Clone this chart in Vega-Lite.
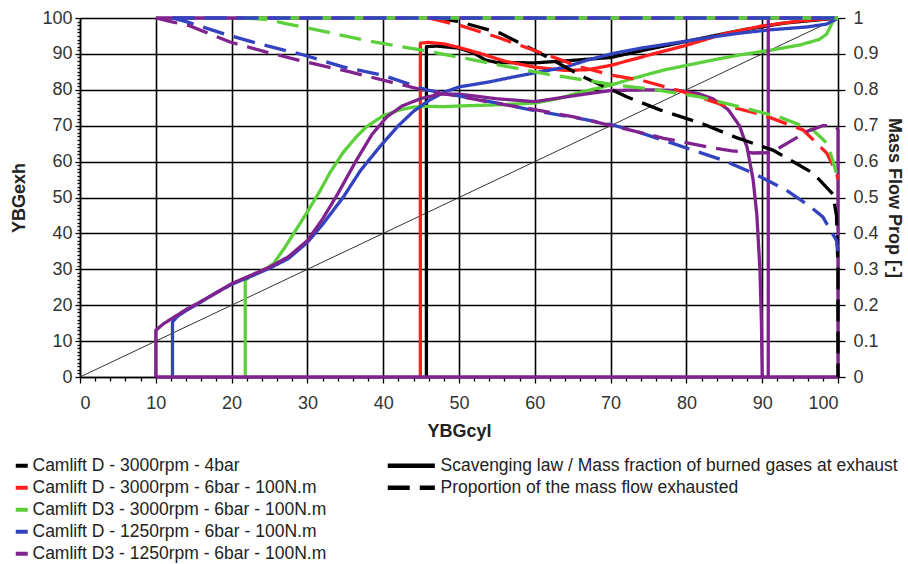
{
"$schema": "https://vega.github.io/schema/vega-lite/v6.json",
"width": 758, "height": 359,
"autosize": {"type": "none"},
"padding": {"left": 80, "top": 18, "right": 70, "bottom": 187},
"background": "white",
"config": {
  "view": {"stroke": null},
  "axis": {"labelFont": "Liberation Sans", "labelFontSize": 18, "labelColor": "#333", "titleFont": "Liberation Sans", "titleFontSize": 18, "titleFontWeight": "bold", "titleColor": "#222", "domainColor": "#000", "domainWidth": 1.5, "tickColor": "#000", "tickWidth": 1.3, "gridColor": "#000", "gridWidth": 1.6, "gridOpacity": 1},
  "legend": {"labelFont": "Liberation Sans", "labelFontSize": 17.5, "labelColor": "#222", "labelLimit": 700}
},
"datasets": {
  "segs": [
    {"g": "k1", "s": "Camlift D - 3000rpm - 4bar", "k": "Scavenging law / Mass fraction of burned gases at exhaust"},
    {"g": "r1", "s": "Camlift D - 3000rpm - 6bar - 100N.m", "k": "Scavenging law / Mass fraction of burned gases at exhaust"},
    {"g": "g1", "s": "Camlift D3 - 3000rpm - 6bar - 100N.m", "k": "Scavenging law / Mass fraction of burned gases at exhaust"},
    {"g": "b1", "s": "Camlift D - 1250rpm - 6bar - 100N.m", "k": "Scavenging law / Mass fraction of burned gases at exhaust"},
    {"g": "p1", "s": "Camlift D3 - 1250rpm - 6bar - 100N.m", "k": "Scavenging law / Mass fraction of burned gases at exhaust"},
    {"g": "p2", "s": "Camlift D3 - 1250rpm - 6bar - 100N.m", "k": "Scavenging law / Mass fraction of burned gases at exhaust"},
    {"g": "p3", "s": "Camlift D3 - 1250rpm - 6bar - 100N.m", "k": "Scavenging law / Mass fraction of burned gases at exhaust"},
    {"g": "p4", "s": "Camlift D3 - 1250rpm - 6bar - 100N.m", "k": "Scavenging law / Mass fraction of burned gases at exhaust"},
    {"g": "p5", "s": "Camlift D3 - 1250rpm - 6bar - 100N.m", "k": "Scavenging law / Mass fraction of burned gases at exhaust"},
    {"g": "kd", "s": "Camlift D - 3000rpm - 4bar", "k": "Proportion of the mass flow exhausted"},
    {"g": "rd", "s": "Camlift D - 3000rpm - 6bar - 100N.m", "k": "Proportion of the mass flow exhausted"},
    {"g": "gd", "s": "Camlift D3 - 3000rpm - 6bar - 100N.m", "k": "Proportion of the mass flow exhausted"},
    {"g": "gt", "s": "Camlift D3 - 3000rpm - 6bar - 100N.m", "k": "Proportion of the mass flow exhausted"},
    {"g": "bd", "s": "Camlift D - 1250rpm - 6bar - 100N.m", "k": "Proportion of the mass flow exhausted"},
    {"g": "bt", "s": "Camlift D - 1250rpm - 6bar - 100N.m", "k": "Proportion of the mass flow exhausted"},
    {"g": "pd", "s": "Camlift D3 - 1250rpm - 6bar - 100N.m", "k": "Proportion of the mass flow exhausted"}
  ],
  "solid": [
    {"g":"k1","x":45.7,"y":0},{"g":"k1","x":45.7,"y":92},{"g":"k1","x":47,"y":92.2},{"g":"k1","x":50,"y":91.6},{"g":"k1","x":52,"y":90.2},{"g":"k1","x":53.5,"y":88.3},{"g":"k1","x":55,"y":87.6},{"g":"k1","x":60,"y":87.5},{"g":"k1","x":65,"y":88.2},{"g":"k1","x":70,"y":89},{"g":"k1","x":75,"y":91.3},{"g":"k1","x":80,"y":93.5},{"g":"k1","x":87,"y":96.5},{"g":"k1","x":93,"y":98.6},{"g":"k1","x":100,"y":100},
    {"g":"r1","x":44.9,"y":0},{"g":"r1","x":44.9,"y":93},{"g":"r1","x":46,"y":93.2},{"g":"r1","x":48,"y":92.8},{"g":"r1","x":50,"y":91.8},{"g":"r1","x":53,"y":90},{"g":"r1","x":56,"y":88},{"g":"r1","x":60,"y":86.3},{"g":"r1","x":64,"y":85.4},{"g":"r1","x":67,"y":85.6},{"g":"r1","x":70,"y":86.8},{"g":"r1","x":73,"y":88.5},{"g":"r1","x":76,"y":90.2},{"g":"r1","x":80,"y":92.4},{"g":"r1","x":85,"y":95.6},{"g":"r1","x":90,"y":97.8},{"g":"r1","x":95,"y":99.2},{"g":"r1","x":100,"y":100},
    {"g":"g1","x":21.8,"y":0},{"g":"g1","x":21.8,"y":27},{"g":"g1","x":22.5,"y":28},{"g":"g1","x":24,"y":29.5},{"g":"g1","x":25.5,"y":31.5},{"g":"g1","x":27,"y":36},{"g":"g1","x":28.2,"y":40},{"g":"g1","x":30,"y":46},{"g":"g1","x":31.7,"y":52},{"g":"g1","x":33,"y":57},{"g":"g1","x":34.7,"y":62.5},{"g":"g1","x":36.5,"y":67},{"g":"g1","x":37.8,"y":69.7},{"g":"g1","x":40,"y":72.8},{"g":"g1","x":42.2,"y":74.4},{"g":"g1","x":44,"y":75.2},{"g":"g1","x":46,"y":75.4},{"g":"g1","x":48,"y":75.3},{"g":"g1","x":50,"y":75.5},{"g":"g1","x":55,"y":75.8},{"g":"g1","x":60,"y":76.3},{"g":"g1","x":63,"y":77.5},{"g":"g1","x":66,"y":79.3},{"g":"g1","x":70,"y":81.3},{"g":"g1","x":73,"y":83.2},{"g":"g1","x":77,"y":85.5},{"g":"g1","x":80,"y":86.8},{"g":"g1","x":83.5,"y":88.3},{"g":"g1","x":87,"y":89.7},{"g":"g1","x":91,"y":91},{"g":"g1","x":95,"y":92.5},{"g":"g1","x":97.5,"y":94},{"g":"g1","x":98.5,"y":95.5},{"g":"g1","x":99.3,"y":99},{"g":"g1","x":100,"y":100},
    {"g":"b1","x":12.2,"y":0},{"g":"b1","x":12.2,"y":15.3},{"g":"b1","x":12.8,"y":16.8},{"g":"b1","x":14,"y":18.5},{"g":"b1","x":15.5,"y":20.3},{"g":"b1","x":18,"y":23.5},{"g":"b1","x":20,"y":25.8},{"g":"b1","x":22.5,"y":28},{"g":"b1","x":25,"y":30.3},{"g":"b1","x":27.5,"y":33},{"g":"b1","x":30,"y":37.5},{"g":"b1","x":32,"y":42.5},{"g":"b1","x":34.7,"y":50},{"g":"b1","x":37,"y":57.5},{"g":"b1","x":39.5,"y":64},{"g":"b1","x":42,"y":70},{"g":"b1","x":44,"y":74},{"g":"b1","x":46,"y":77},{"g":"b1","x":48,"y":79.3},{"g":"b1","x":50,"y":80.8},{"g":"b1","x":54,"y":82.2},{"g":"b1","x":57,"y":83.5},{"g":"b1","x":60.7,"y":85},{"g":"b1","x":64,"y":86.3},{"g":"b1","x":67.3,"y":88.5},{"g":"b1","x":70.3,"y":90.1},{"g":"b1","x":74,"y":91.6},{"g":"b1","x":78.3,"y":93},{"g":"b1","x":83,"y":94.6},{"g":"b1","x":87.1,"y":95.8},{"g":"b1","x":91,"y":96.7},{"g":"b1","x":95.9,"y":97.5},{"g":"b1","x":98.5,"y":98.3},{"g":"b1","x":100,"y":100},
    {"g":"p1","x":10,"y":0},{"g":"p1","x":10,"y":13},{"g":"p1","x":11,"y":14.8},{"g":"p1","x":12.5,"y":16.8},{"g":"p1","x":14,"y":18.8},{"g":"p1","x":15.5,"y":20.5},{"g":"p1","x":18,"y":23.5},{"g":"p1","x":20,"y":26},{"g":"p1","x":22.5,"y":28.3},{"g":"p1","x":25,"y":30.6},{"g":"p1","x":27.5,"y":33.5},{"g":"p1","x":30,"y":38},{"g":"p1","x":32,"y":44},{"g":"p1","x":34,"y":51},{"g":"p1","x":36.5,"y":60.5},{"g":"p1","x":38.5,"y":67.5},{"g":"p1","x":40.5,"y":72.5},{"g":"p1","x":42.5,"y":75.5},{"g":"p1","x":45,"y":77.6},{"g":"p1","x":47.5,"y":78.8},{"g":"p1","x":50,"y":78.8},{"g":"p1","x":55,"y":77.5},{"g":"p1","x":60,"y":76.7},{"g":"p1","x":65,"y":78.3},{"g":"p1","x":70,"y":79.8},{"g":"p1","x":75,"y":80},{"g":"p1","x":79,"y":79.8},{"g":"p1","x":81.5,"y":79},{"g":"p1","x":83.5,"y":77.5},{"g":"p1","x":85.5,"y":74.5},{"g":"p1","x":87,"y":70},{"g":"p1","x":88,"y":64},{"g":"p1","x":88.8,"y":55},{"g":"p1","x":89.3,"y":45},{"g":"p1","x":89.7,"y":30},{"g":"p1","x":89.9,"y":15},{"g":"p1","x":90,"y":0},
    {"g":"p2","x":10,"y":0},{"g":"p2","x":100,"y":0},
    {"g":"p3","x":90.8,"y":0},{"g":"p3","x":90.8,"y":100},
    {"g":"p4","x":100,"y":0},{"g":"p4","x":100,"y":69},
    {"g":"p5","x":10,"y":100},{"g":"p5","x":100,"y":100}
  ],
  "dashed": [
    {"g":"kd","x":47,"y":1},{"g":"kd","x":50,"y":0.99},{"g":"kd","x":55.4,"y":0.958},{"g":"kd","x":60.7,"y":0.902},{"g":"kd","x":66.4,"y":0.836},{"g":"kd","x":72.2,"y":0.78},{"g":"kd","x":76.5,"y":0.744},{"g":"kd","x":81.8,"y":0.708},{"g":"kd","x":86.7,"y":0.666},{"g":"kd","x":91.4,"y":0.632},{"g":"kd","x":96.7,"y":0.568},{"g":"kd","x":99.3,"y":0.51},{"g":"kd","x":99.8,"y":0.45},{"g":"kd","x":100,"y":0.3},{"g":"kd","x":100,"y":0},
    {"g":"rd","x":46,"y":1},{"g":"rd","x":50,"y":0.98},{"g":"rd","x":55,"y":0.947},{"g":"rd","x":60.7,"y":0.904},{"g":"rd","x":66,"y":0.864},{"g":"rd","x":70.3,"y":0.84},{"g":"rd","x":74,"y":0.827},{"g":"rd","x":79.6,"y":0.794},{"g":"rd","x":84.8,"y":0.758},{"g":"rd","x":90.1,"y":0.73},{"g":"rd","x":95.4,"y":0.688},{"g":"rd","x":98.5,"y":0.624},{"g":"rd","x":99.8,"y":0.57},{"g":"rd","x":100,"y":0.55},
    {"g":"gd","x":21.8,"y":1},{"g":"gd","x":25,"y":0.995},{"g":"gd","x":27,"y":0.985},{"g":"gd","x":31.2,"y":0.967},{"g":"gd","x":37.8,"y":0.937},{"g":"gd","x":42.2,"y":0.921},{"g":"gd","x":45.3,"y":0.91},{"g":"gd","x":49.7,"y":0.892},{"g":"gd","x":54.1,"y":0.874},{"g":"gd","x":62,"y":0.842},{"g":"gd","x":70.8,"y":0.813},{"g":"gd","x":76,"y":0.8},{"g":"gd","x":81.8,"y":0.78},{"g":"gd","x":87.1,"y":0.752},{"g":"gd","x":92.3,"y":0.724},{"g":"gd","x":96.7,"y":0.688},{"g":"gd","x":98.6,"y":0.65},{"g":"gd","x":99.3,"y":0.604},{"g":"gd","x":100,"y":0.55},
    {"g":"gt","x":21.8,"y":1},{"g":"gt","x":100,"y":1},
    {"g":"bd","x":12.2,"y":1},{"g":"bd","x":14,"y":0.99},{"g":"bd","x":19.4,"y":0.953},{"g":"bd","x":24.2,"y":0.925},{"g":"bd","x":29.5,"y":0.897},{"g":"bd","x":34.7,"y":0.864},{"g":"bd","x":40,"y":0.84},{"g":"bd","x":45.7,"y":0.8},{"g":"bd","x":52,"y":0.775},{"g":"bd","x":56.3,"y":0.758},{"g":"bd","x":60.7,"y":0.739},{"g":"bd","x":66,"y":0.72},{"g":"bd","x":70.3,"y":0.702},{"g":"bd","x":74,"y":0.68},{"g":"bd","x":78.3,"y":0.65},{"g":"bd","x":84.8,"y":0.604},{"g":"bd","x":88.8,"y":0.568},{"g":"bd","x":93.2,"y":0.52},{"g":"bd","x":96,"y":0.48},{"g":"bd","x":98,"y":0.446},{"g":"bd","x":99.8,"y":0.38},{"g":"bd","x":100,"y":0.35},
    {"g":"bt","x":12.2,"y":1},{"g":"bt","x":100,"y":1},
    {"g":"pd","x":10,"y":1},{"g":"pd","x":12,"y":0.99},{"g":"pd","x":14.5,"y":0.978},{"g":"pd","x":19.8,"y":0.933},{"g":"pd","x":24.6,"y":0.905},{"g":"pd","x":29.9,"y":0.877},{"g":"pd","x":35.6,"y":0.85},{"g":"pd","x":40.9,"y":0.822},{"g":"pd","x":45.7,"y":0.797},{"g":"pd","x":50,"y":0.782},{"g":"pd","x":55,"y":0.762},{"g":"pd","x":60,"y":0.745},{"g":"pd","x":65,"y":0.725},{"g":"pd","x":72.2,"y":0.69},{"g":"pd","x":77,"y":0.665},{"g":"pd","x":82.7,"y":0.641},{"g":"pd","x":86,"y":0.63},{"g":"pd","x":88.8,"y":0.624},{"g":"pd","x":91,"y":0.625},{"g":"pd","x":92,"y":0.635},{"g":"pd","x":94,"y":0.66},{"g":"pd","x":96,"y":0.685},{"g":"pd","x":98,"y":0.7},{"g":"pd","x":99.5,"y":0.7},{"g":"pd","x":100,"y":0.69}
  ]
},
"layer": [
  {
    "data": {"values": [{"x": 0, "y": 0}, {"x": 100, "y": 100}]},
    "mark": {"type": "line", "color": "#333", "strokeWidth": 1},
    "encoding": {
      "x": {"field": "x", "type": "quantitative", "scale": {"domain": [0, 100], "nice": false},
        "axis": {"values": [0,10,20,30,40,50,60,70,80,90,100], "grid": true, "title": "YBGcyl", "tickSize": 6, "labelPadding": 11, "titlePadding": 10}},
      "y": {"field": "y", "type": "quantitative", "scale": {"domain": [0, 100], "nice": false},
        "axis": {"orient": "left", "values": [0,10,20,30,40,50,60,70,80,90,100], "grid": true, "title": "YBGexh", "tickSize": 5, "labelPadding": 3, "titlePadding": 13}}
    }
  },
  {
    "data": {"name": "solid"},
    "transform": [{"lookup": "g", "from": {"data": {"name": "segs"}, "key": "g", "fields": ["s", "k"]}}],
    "mark": {"type": "line", "strokeWidth": 3.3, "strokeJoin": "round"},
    "encoding": {
      "x": {"field": "x", "type": "quantitative", "scale": {"domain": [0, 100], "nice": false},
        "axis": {"orient": "bottom", "values": [2,4,6,8,12,14,16,18,22,24,26,28,32,34,36,38,42,44,46,48,52,54,56,58,62,64,66,68,72,74,76,78,82,84,86,88,92,94,96,98], "labels": false, "grid": false, "domain": false, "tickSize": 4, "title": null}},
      "y": {"field": "y", "type": "quantitative", "scale": {"domain": [0, 100], "nice": false},
        "axis": {"orient": "left", "values": [1,2,3,4,5,6,7,8,9,11,12,13,14,15,16,17,18,19,21,22,23,24,25,26,27,28,29,31,32,33,34,35,36,37,38,39,41,42,43,44,45,46,47,48,49,51,52,53,54,55,56,57,58,59,61,62,63,64,65,66,67,68,69,71,72,73,74,75,76,77,78,79,81,82,83,84,85,86,87,88,89,91,92,93,94,95,96,97,98,99], "labels": false, "grid": false, "domain": false, "tickSize": 3, "title": null}},
      "color": {"field": "s", "type": "nominal",
        "scale": {"domain": ["Camlift D - 3000rpm - 4bar", "Camlift D - 3000rpm - 6bar - 100N.m", "Camlift D3 - 3000rpm - 6bar - 100N.m", "Camlift D - 1250rpm - 6bar - 100N.m", "Camlift D3 - 1250rpm - 6bar - 100N.m"],
                  "range": ["#000000", "#ff1f1f", "#5cd03a", "#3343c0", "#80238f"]},
        "legend": {"title": null, "orient": "none", "legendX": -67, "legendY": 439, "symbolType": "stroke", "symbolSize": 144, "symbolStrokeWidth": 4, "rowPadding": 3, "labelOffset": 2}},
      "strokeDash": {"field": "k", "type": "nominal",
        "scale": {"domain": ["Scavenging law / Mass fraction of burned gases at exhaust", "Proportion of the mass flow exhausted"], "range": [[1, 0], [22, 10]]},
        "legend": {"title": null, "orient": "none", "legendX": 302, "legendY": 439, "symbolType": "M-1,0H14.7", "symbolSize": 36, "symbolStrokeWidth": 4.5, "symbolStrokeColor": "#000", "rowPadding": 3, "labelOffset": 41}},
      "detail": {"field": "g"},
      "order": {"value": null}
    }
  },
  {
    "data": {"name": "dashed"},
    "transform": [{"lookup": "g", "from": {"data": {"name": "segs"}, "key": "g", "fields": ["s", "k"]}}],
    "mark": {"type": "line", "strokeWidth": 3.3},
    "encoding": {
      "x": {"field": "x", "type": "quantitative", "scale": {"domain": [0, 100], "nice": false}, "axis": null},
      "y": {"field": "y", "type": "quantitative", "scale": {"domain": [0, 1], "nice": false},
        "axis": {"orient": "right", "values": [0,0.1,0.2,0.3,0.4,0.5,0.6,0.7,0.8,0.9,1], "format": ".1~f", "grid": false, "domain": false, "title": "Mass Flow Prop [-]", "tickSize": 7, "labelPadding": 8, "titlePadding": 6}},
      "color": {"field": "s", "type": "nominal"},
      "strokeDash": {"field": "k", "type": "nominal"},
      "detail": {"field": "g"},
      "order": {"value": null}
    }
  }
],
"resolve": {"scale": {"y": "independent"}, "axis": {"x": "independent", "y": "independent"}}
}
